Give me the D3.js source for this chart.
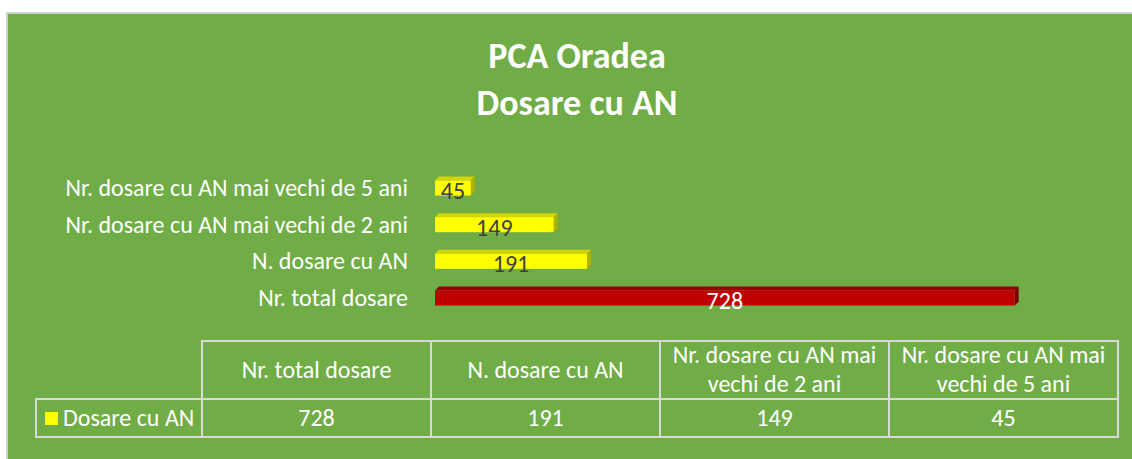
<!DOCTYPE html>
<html>
<head>
<meta charset="utf-8">
<script src="https://cdn.jsdelivr.net/npm/d3@7"></script>
<style>
  body { margin: 0; background: #fff; }
  svg { display: block; font-family: Calibri, Carlito, "Open Sans", "Noto Sans", sans-serif; }
</style>
</head>
<body>
<div id="chart"></div>
<script>
// data
var categories = ["Nr. total dosare", "N. dosare cu AN", "Nr. dosare cu AN mai vechi de 2 ani", "Nr. dosare cu AN mai vechi de 5 ani"]
var headerLines = [["Nr. total dosare"], ["N. dosare cu AN"], ["Nr. dosare cu AN mai", "vechi de 2 ani"], ["Nr. dosare cu AN mai", "vechi de 5 ani"]]
var values = [728, 191, 149, 45]
var seriesName = "Dosare cu AN"
var titleLines = ["PCA Oradea", "Dosare cu AN"]

var W = 1132, H = 459
var fs = 24
var svg = d3.select("#chart").append("svg").attr("width", W).attr("height", H)

// background panel
svg.append("rect").attr("x", 7).attr("y", 13).attr("width", W).attr("height", H)
  .attr("fill", "#70AD47").attr("stroke", "#d0d0d0").attr("stroke-width", 2)

// title
svg.selectAll(".title").data(titleLines).enter().append("text")
  .attr("x", 577).attr("y", (d, i) => 68 + i * 47)
  .attr("text-anchor", "middle").attr("fill", "#fff")
  .attr("font-size", 36).attr("font-weight", "bold")
  .text(d => d)

var x = d3.scaleLinear().domain([0, 800]).range([435, 1072])
// top-to-bottom order is reversed
var order = categories.slice().reverse()
var y = d3.scaleBand().domain(order).range([169.5, 316.5]).paddingInner(0.59).paddingOuter(0.3)
var dep = 4

var rows = categories.map((c, i) => ({ cat: c, val: values[i], total: i == 0 }))

var g = svg.append("g")
g.selectAll(".top").data(rows).enter().append("polygon")
  .attr("points", d => {
    var y0 = y(d.cat), x1 = x(d.val)
    return [[x(0), y0], [x(0) + dep, y0 - dep], [x1 + dep, y0 - dep], [x1, y0]].join(" ")
  })
  .attr("fill", d => d.total ? "#9a0000" : "#d4d400")
g.selectAll(".side").data(rows).enter().append("polygon")
  .attr("points", d => {
    var y0 = y(d.cat), x1 = x(d.val), b = y.bandwidth()
    return [[x1, y0], [x1 + dep, y0 - dep], [x1 + dep, y0 + b - dep], [x1, y0 + b]].join(" ")
  })
  .attr("fill", d => d.total ? "#7a0000" : "#b0b000")
g.selectAll(".front").data(rows).enter().append("rect")
  .attr("x", x(0)).attr("y", d => y(d.cat))
  .attr("width", d => x(d.val) - x(0)).attr("height", y.bandwidth())
  .attr("fill", d => d.total ? "#C00000" : "#FFFF00")

// value labels
g.selectAll(".val").data(rows).enter().append("text")
  .attr("x", d => (x(0) + x(d.val)) / 2)
  .attr("y", d => y(d.cat) + y.bandwidth() / 2 + 11)
  .attr("text-anchor", "middle").attr("font-size", fs)
  .attr("fill", d => d.total ? "#fff" : "#404040")
  .text(d => d.val)

// category labels
g.selectAll(".cat").data(rows).enter().append("text")
  .attr("x", 408).attr("y", d => y(d.cat) + y.bandwidth() / 2 + 8)
  .attr("text-anchor", "end").attr("font-size", fs).attr("fill", "#fff")
  .text(d => d.cat)

// data table
var colX = d3.scaleBand().domain(categories).range([202, 1118])
var tTop = 341, tMid = 399, tBot = 437, legX = 36
var line = "#d9d9d9"
var tb = svg.append("g").attr("stroke", line).attr("stroke-width", 2).attr("fill", "none")
tb.append("rect").attr("x", 202).attr("y", tTop).attr("width", 1118 - 202).attr("height", tBot - tTop)
tb.append("rect").attr("x", legX).attr("y", tMid).attr("width", 202 - legX).attr("height", tBot - tMid)
tb.append("line").attr("x1", 202).attr("x2", 1118).attr("y1", tMid).attr("y2", tMid)
tb.selectAll(".vl").data(categories.slice(1)).enter().append("line")
  .attr("x1", d => colX(d)).attr("x2", d => colX(d)).attr("y1", tTop).attr("y2", tBot)

var cols = svg.selectAll(".col").data(categories).enter().append("g")
cols.each(function (c, i) {
  var lines = headerLines[i]
  var cx = colX(c) + colX.bandwidth() / 2
  var gg = d3.select(this)
  gg.selectAll("text.h").data(lines).enter().append("text")
    .attr("x", cx)
    .attr("y", (d, j) => lines.length == 1 ? 378 : 363 + j * 29)
    .attr("text-anchor", "middle").attr("font-size", fs).attr("fill", "#fff")
    .text(d => d)
  gg.append("text").attr("x", cx).attr("y", 426)
    .attr("text-anchor", "middle").attr("font-size", fs).attr("fill", "#fff")
    .text(values[i])
})

svg.append("rect").attr("x", 45).attr("y", 412).attr("width", 13).attr("height", 13).attr("fill", "#FFFF00")
svg.append("text").attr("x", 63).attr("y", 426).attr("font-size", fs).attr("fill", "#fff").text(seriesName)
</script>
</body>
</html>
